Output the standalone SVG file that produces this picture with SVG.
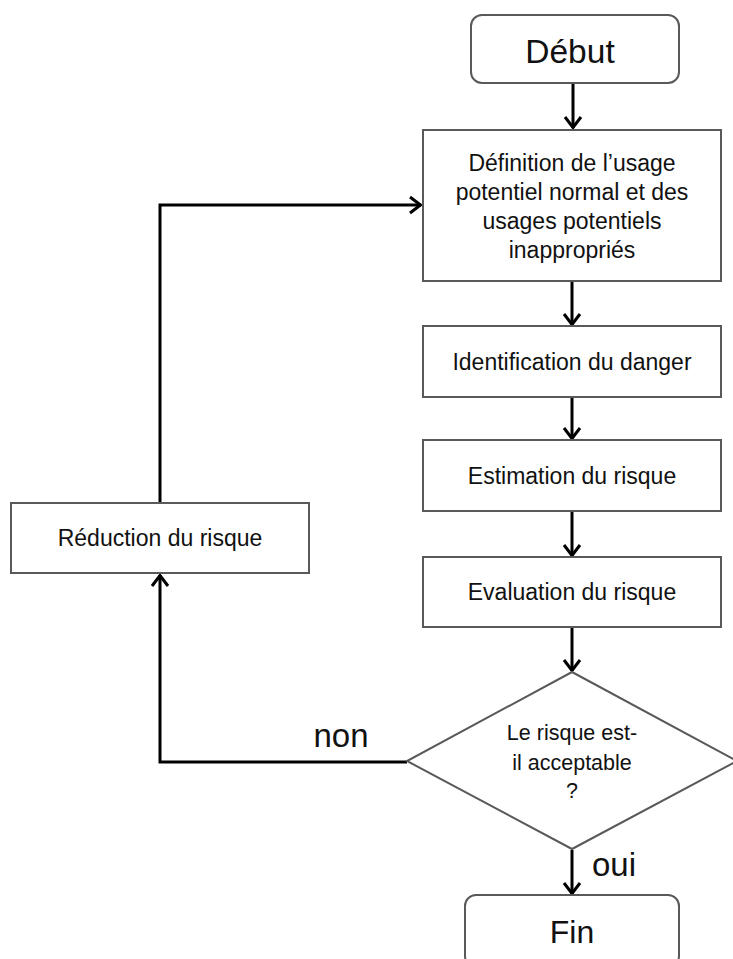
<svg xmlns="http://www.w3.org/2000/svg" width="733" height="959" viewBox="0 0 733 959">
<style>
  .box { fill: #ffffff; stroke: #595959; stroke-width: 2; }
  .t { font-family: "Liberation Sans", Arial, sans-serif; fill: #111111; text-anchor: middle; }
  .m { font-size: 23px; }
  .d { font-size: 21.5px; }
  .big { font-size: 33.5px; }
  .fin { font-size: 32px; }
  .lbl { font-size: 33px; }
  .conn { fill: none; stroke: #000000; stroke-width: 3; }
</style>
<defs>
  <marker id="arr" markerUnits="userSpaceOnUse" viewBox="-14 -11 16 22" markerWidth="16" markerHeight="22" refX="0" refY="0" orient="auto" overflow="visible">
    <path d="M-11,-8 L-0.5,0 L-11,8" fill="none" stroke="#000000" stroke-width="3"/>
  </marker>
</defs>
<rect width="733" height="959" fill="#ffffff"/>

<g id="connectors">
  <line class="conn" x1="573" y1="84" x2="573" y2="128" marker-end="url(#arr)"/>
  <line class="conn" x1="572" y1="282" x2="572" y2="325" marker-end="url(#arr)"/>
  <line class="conn" x1="572" y1="398" x2="572" y2="439" marker-end="url(#arr)"/>
  <line class="conn" x1="572" y1="512" x2="572" y2="556" marker-end="url(#arr)"/>
  <line class="conn" x1="572" y1="628" x2="572" y2="671" marker-end="url(#arr)"/>
  <line class="conn" x1="572" y1="850" x2="572" y2="894" marker-end="url(#arr)"/>
  <polyline class="conn" points="407,762 160,762 160,575" marker-end="url(#arr)"/>
  <polyline class="conn" points="160,503 160,205 421,205" marker-end="url(#arr)"/>
</g>

<g id="debut">
  <rect class="box" x="471" y="15" width="208" height="68" rx="11"/>
  <text class="t big" x="570" y="63">Début</text>
</g>

<g id="definition">
  <rect class="box" x="423" y="130" width="298" height="151"/>
  <text class="t m" x="572" y="171">Définition de l’usage</text>
  <text class="t m" x="572" y="200">potentiel normal et des</text>
  <text class="t m" x="572" y="229">usages potentiels</text>
  <text class="t m" x="572" y="258">inappropriés</text>
</g>

<g id="identification">
  <rect class="box" x="423" y="326" width="298" height="71"/>
  <text class="t m" x="572" y="370">Identification du danger</text>
</g>

<g id="estimation">
  <rect class="box" x="423" y="440" width="298" height="71"/>
  <text class="t m" x="572" y="484">Estimation du risque</text>
</g>

<g id="evaluation">
  <rect class="box" x="423" y="557" width="298" height="70"/>
  <text class="t m" x="572" y="600">Evaluation du risque</text>
</g>

<g id="decision">
  <polygon class="box" points="572,672 737,761 572,849 407,761"/>
  <text class="t d" x="572" y="740">Le risque est-</text>
  <text class="t d" x="572" y="770">il acceptable</text>
  <text class="t d" x="572" y="798">?</text>
</g>

<g id="reduction">
  <rect class="box" x="11" y="503" width="298" height="70"/>
  <text class="t m" x="160" y="546">Réduction du risque</text>
</g>

<g id="fin">
  <rect class="box" x="465" y="895" width="214" height="72" rx="11"/>
  <text class="t fin" x="572" y="943">Fin</text>
</g>

<g id="labels">
  <text class="t lbl" x="341" y="747">non</text>
  <text class="t lbl" x="614" y="876">oui</text>
</g>
</svg>
